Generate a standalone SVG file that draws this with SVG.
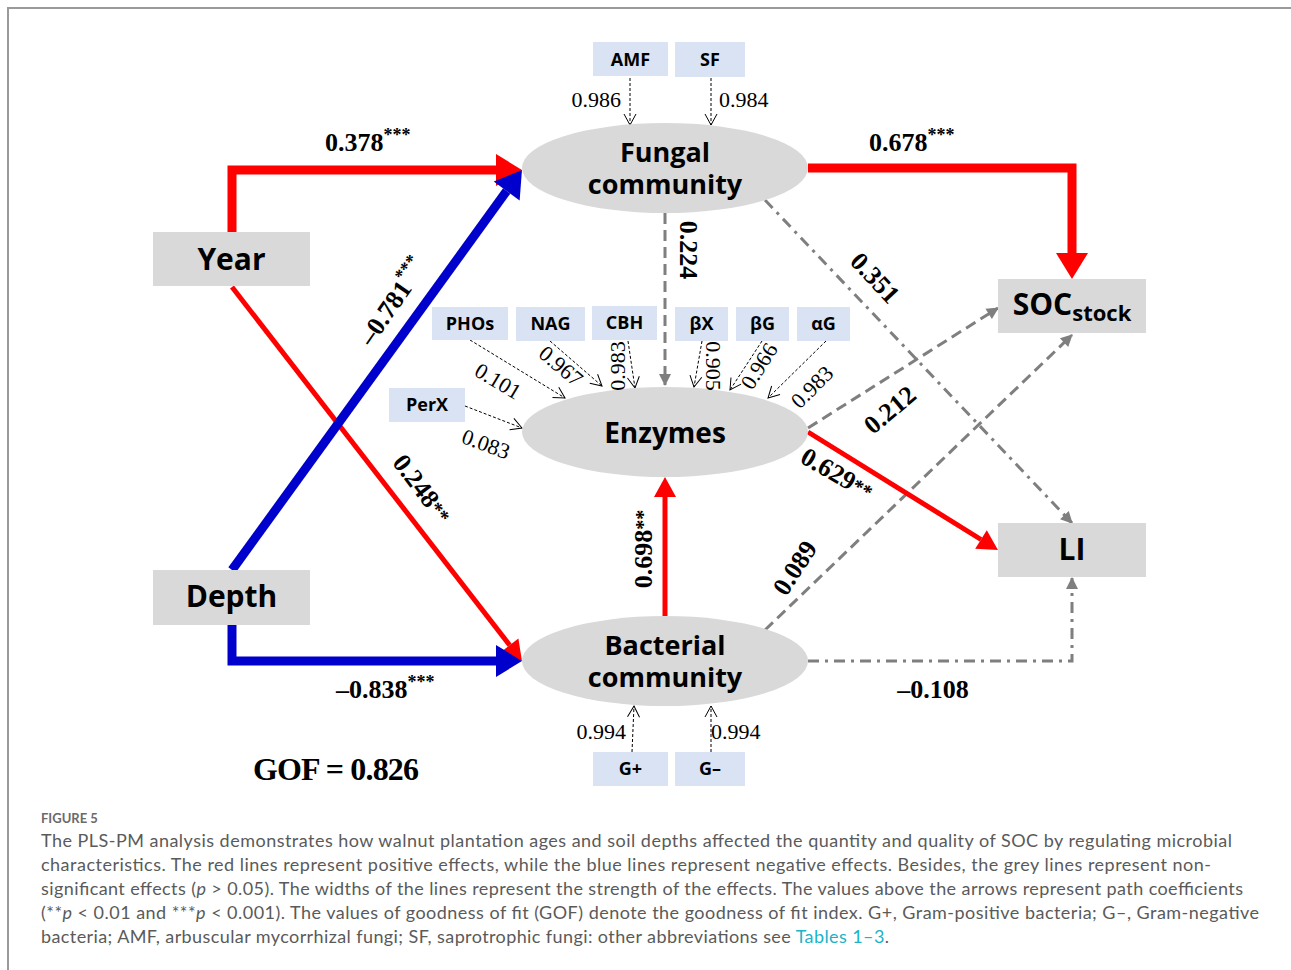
<svg xmlns="http://www.w3.org/2000/svg" width="1291" height="970" viewBox="0 0 1291 970">
<style>
.lat{fill:#d9d9d9}
.ind{fill:#dae3f3}
.nt{font-family:"Open Sans","Noto Sans",sans-serif;font-weight:700;fill:#000;text-anchor:middle}
.it{font-family:"Open Sans","Noto Sans",sans-serif;font-weight:700;font-size:18px;fill:#000;text-anchor:middle}
.co{font-family:"Liberation Serif","Times New Roman",serif;font-weight:700;font-size:26px;fill:#000}
.gof{font-family:"Liberation Serif","Times New Roman",serif;font-weight:700;font-size:32px;fill:#000}
.lo{font-family:"Liberation Serif","Times New Roman",serif;font-size:22px;fill:#000}
.cap{font-family:Lato,"Open Sans",sans-serif;font-size:18px;fill:#5a5a5a}
.red{fill:none;stroke:#ff0000}
.blue{fill:none;stroke:#0000cc}
.grey{fill:none;stroke:#7f7f7f;stroke-width:3}
.dash{stroke-dasharray:11,6}
.dd{stroke-dasharray:11,6,3,6}
.thin{fill:none;stroke:#000;stroke-width:1;stroke-dasharray:3,2}
</style>
<defs>
<marker id="hrL" markerUnits="userSpaceOnUse" markerWidth="30" markerHeight="34" refX="0" refY="16" orient="auto" overflow="visible"><path d="M0,0 L26,16 L0,32 z" fill="#ff0000"/></marker>
<marker id="hbL" markerUnits="userSpaceOnUse" markerWidth="30" markerHeight="34" refX="0" refY="16" orient="auto" overflow="visible"><path d="M0,0 L26,16 L0,32 z" fill="#0000cc"/></marker>
<marker id="hrS" markerUnits="userSpaceOnUse" markerWidth="24" markerHeight="24" refX="0" refY="11" orient="auto" overflow="visible"><path d="M0,0 L20,11 L0,22 z" fill="#ff0000"/></marker>
<marker id="hg" markerUnits="userSpaceOnUse" markerWidth="14" markerHeight="14" refX="11" refY="6" orient="auto" overflow="visible"><path d="M0,0 L12,6 L0,12 z" fill="#7f7f7f"/></marker>
<marker id="ho" markerUnits="userSpaceOnUse" markerWidth="14" markerHeight="14" refX="11" refY="6" orient="auto" overflow="visible"><path d="M0,0 L11,6 L0,12" fill="none" stroke="#000" stroke-width="1"/></marker>
</defs>
<rect width="1291" height="970" fill="#fff"/>
<path d="M8,970 V8 H1291" fill="none" stroke="#9a9a9a" stroke-width="2"/>

<g id="connectors">
<path class="grey dash" d="M665,213 V385" marker-end="url(#hg)"/>
<path class="grey dd" d="M765,200 L1072,523" marker-end="url(#hg)"/>
<path class="grey dash" d="M808,428 L998,308" marker-end="url(#hg)"/>
<path class="grey dash" d="M765,630 L1072,335" marker-end="url(#hg)"/>
<path class="grey dd" d="M808,661 H1072 V578" marker-end="url(#hg)"/>
<path class="red" stroke-width="9" d="M232,232 V170 H496" marker-end="url(#hrL)"/>
<path class="red" stroke-width="5" d="M232,287 L509.7,645.2" marker-end="url(#hrS)"/>
<path class="blue" stroke-width="9" d="M232,570 L506.7,191" marker-end="url(#hbL)"/>
<path class="blue" stroke-width="9" d="M232,625 V661 H496" marker-end="url(#hbL)"/>
<path class="red" stroke-width="9" d="M808,168 H1072 V253" marker-end="url(#hrL)"/>
<path class="red" stroke-width="5" d="M665,616 V497" marker-end="url(#hrS)"/>
<path class="red" stroke-width="5" d="M808,432 L981,539.5" marker-end="url(#hrS)"/>
<path class="thin" d="M630,78 V125" marker-end="url(#ho)"/>
<path class="thin" d="M711,78 V125" marker-end="url(#ho)"/>
<path class="thin" d="M470,340 L565,398" marker-end="url(#ho)"/>
<path class="thin" d="M550,341 L602,386" marker-end="url(#ho)"/>
<path class="thin" d="M628,341 L635,388" marker-end="url(#ho)"/>
<path class="thin" d="M702,341 L694,387" marker-end="url(#ho)"/>
<path class="thin" d="M762,341 L730,390" marker-end="url(#ho)"/>
<path class="thin" d="M826,341 L768,398" marker-end="url(#ho)"/>
<path class="thin" d="M465,406 L522,428" marker-end="url(#ho)"/>
<path class="thin" d="M632,752 L634,706" marker-end="url(#ho)"/>
<path class="thin" d="M711,752 V706" marker-end="url(#ho)"/>
</g>

<g id="year"><rect class="lat" x="153" y="232" width="157" height="54"/><text class="nt" x="231.5" y="270" font-size="30">Year</text></g>
<g id="depth"><rect class="lat" x="153" y="570" width="157" height="55"/><text class="nt" x="231.5" y="607" font-size="30">Depth</text></g>
<g id="fungal"><ellipse class="lat" cx="665" cy="168" rx="143" ry="45"/><text class="nt" font-size="27"><tspan x="665" y="162">Fungal</tspan><tspan x="665" y="194">community</tspan></text></g>
<g id="enzymes"><ellipse class="lat" cx="665" cy="432" rx="143" ry="45"/><text class="nt" x="665" y="443" font-size="28">Enzymes</text></g>
<g id="bacterial"><ellipse class="lat" cx="665" cy="661" rx="143" ry="45"/><text class="nt" font-size="27"><tspan x="665" y="655">Bacterial</tspan><tspan x="665" y="687">community</tspan></text></g>
<g id="soc"><rect class="lat" x="998" y="279" width="148" height="54"/><text class="nt" x="1072" y="315" font-size="30">SOC<tspan font-size="22" dy="6">stock</tspan></text></g>
<g id="li"><rect class="lat" x="998" y="523" width="148" height="54"/><text class="nt" x="1072" y="560" font-size="30">LI</text></g>

<g id="amf"><rect class="ind" x="593" y="42" width="75" height="34"/><text class="it" x="630.5" y="66">AMF</text></g>
<g id="sf"><rect class="ind" x="675" y="42" width="70" height="35"/><text class="it" x="710" y="66">SF</text></g>
<g id="phos"><rect class="ind" x="432" y="307" width="76" height="33"/><text class="it" x="470" y="330">PHOs</text></g>
<g id="nag"><rect class="ind" x="516" y="307" width="69" height="34"/><text class="it" x="550.5" y="330">NAG</text></g>
<g id="cbh"><rect class="ind" x="592" y="306" width="65" height="34"/><text class="it" x="624.5" y="329">CBH</text></g>
<g id="bx"><rect class="ind" x="675" y="307" width="53" height="34"/><text class="it" x="701.5" y="330">βX</text></g>
<g id="bg"><rect class="ind" x="736" y="307" width="53" height="34"/><text class="it" x="762.5" y="330">βG</text></g>
<g id="ag"><rect class="ind" x="797" y="307" width="53" height="34"/><text class="it" x="823.5" y="330">αG</text></g>
<g id="perx"><rect class="ind" x="389" y="388" width="76" height="34"/><text class="it" x="427" y="411">PerX</text></g>
<g id="gpos"><rect class="ind" x="593" y="752" width="75" height="34"/><text class="it" x="630.5" y="775">G+</text></g>
<g id="gneg"><rect class="ind" x="675" y="752" width="70" height="34"/><text class="it" x="710" y="775">G–</text></g>

<g id="loadings">
<text class="lo" x="621" y="107" text-anchor="end">0.986</text>
<text class="lo" x="719" y="107">0.984</text>
<text class="lo" x="626" y="739" text-anchor="end">0.994</text>
<text class="lo" x="711" y="739">0.994</text>
<text class="lo" text-anchor="middle" dominant-baseline="central" transform="translate(498,381) rotate(31)">0.101</text>
<text class="lo" text-anchor="middle" dominant-baseline="central" transform="translate(561,366) rotate(40)">0.967</text>
<text class="lo" text-anchor="middle" dominant-baseline="central" transform="translate(617,366) rotate(-90)">0.983</text>
<text class="lo" text-anchor="middle" dominant-baseline="central" transform="translate(713,366) rotate(90)">0.905</text>
<text class="lo" text-anchor="middle" dominant-baseline="central" transform="translate(759,366) rotate(-58)">0.966</text>
<text class="lo" text-anchor="middle" dominant-baseline="central" transform="translate(812,387) rotate(-45)">0.983</text>
<text class="lo" text-anchor="middle" dominant-baseline="central" transform="translate(486,444) rotate(20)">0.083</text>
</g>

<g id="coefficients">
<text class="co" x="325" y="151">0.378<tspan font-size="18" dy="-10">***</tspan></text>
<text class="co" x="869" y="151">0.678<tspan font-size="18" dy="-10">***</tspan></text>
<text class="co" x="336" y="698">–0.838<tspan font-size="18" dy="-10">***</tspan></text>
<text class="co" x="933" y="698" text-anchor="middle">–0.108</text>
<text class="co" text-anchor="middle" dominant-baseline="central" transform="translate(393,302) rotate(-55)">–0.781<tspan font-size="18" dy="-9">***</tspan></text>
<text class="co" text-anchor="middle" dominant-baseline="central" transform="translate(422,489) rotate(53)">0.248<tspan font-size="20">**</tspan></text>
<text class="co" text-anchor="middle" dominant-baseline="central" transform="translate(688,250) rotate(90)">0.224</text>
<text class="co" text-anchor="middle" dominant-baseline="central" transform="translate(875,278) rotate(47)">0.351</text>
<text class="co" text-anchor="middle" dominant-baseline="central" transform="translate(890,410) rotate(-40)">0.212</text>
<text class="co" text-anchor="middle" dominant-baseline="central" transform="translate(837,474) rotate(30)">0.629<tspan font-size="20">**</tspan></text>
<text class="co" text-anchor="middle" dominant-baseline="central" transform="translate(795,568) rotate(-57)">0.089</text>
<text class="co" text-anchor="middle" dominant-baseline="central" transform="translate(643,549) rotate(-90)">0.698<tspan font-size="20">**</tspan></text>
<text class="gof" x="253" y="780" textLength="166" lengthAdjust="spacing">GOF = 0.826</text>
</g>

<g id="caption">
<text x="41" y="823" font-family="Lato,'Open Sans',sans-serif" font-size="13" font-weight="700" fill="#6a6a6a">FIGURE 5</text>
<text class="cap" x="41" y="847" textLength="1191" lengthAdjust="spacing">The PLS-PM analysis demonstrates how walnut plantation ages and soil depths affected the quantity and quality of SOC by regulating microbial</text>
<text class="cap" x="41" y="871" textLength="1170" lengthAdjust="spacing">characteristics. The red lines represent positive effects, while the blue lines represent negative effects. Besides, the grey lines represent non-</text>
<text class="cap" x="41" y="895" textLength="1202" lengthAdjust="spacing">significant effects (<tspan font-style="italic">p</tspan> &gt; 0.05). The widths of the lines represent the strength of the effects. The values above the arrows represent path coefficients</text>
<text class="cap" x="41" y="919" textLength="1218" lengthAdjust="spacing">(**<tspan font-style="italic">p</tspan> &lt; 0.01 and ***<tspan font-style="italic">p</tspan> &lt; 0.001). The values of goodness of fit (GOF) denote the goodness of fit index. G+, Gram-positive bacteria; G–, Gram-negative</text>
<text class="cap" x="41" y="943" textLength="848" lengthAdjust="spacing">bacteria; AMF, arbuscular mycorrhizal fungi; SF, saprotrophic fungi: other abbreviations see <tspan fill="#1ab3c8">Tables 1–3</tspan>.</text>
</g>
</svg>
